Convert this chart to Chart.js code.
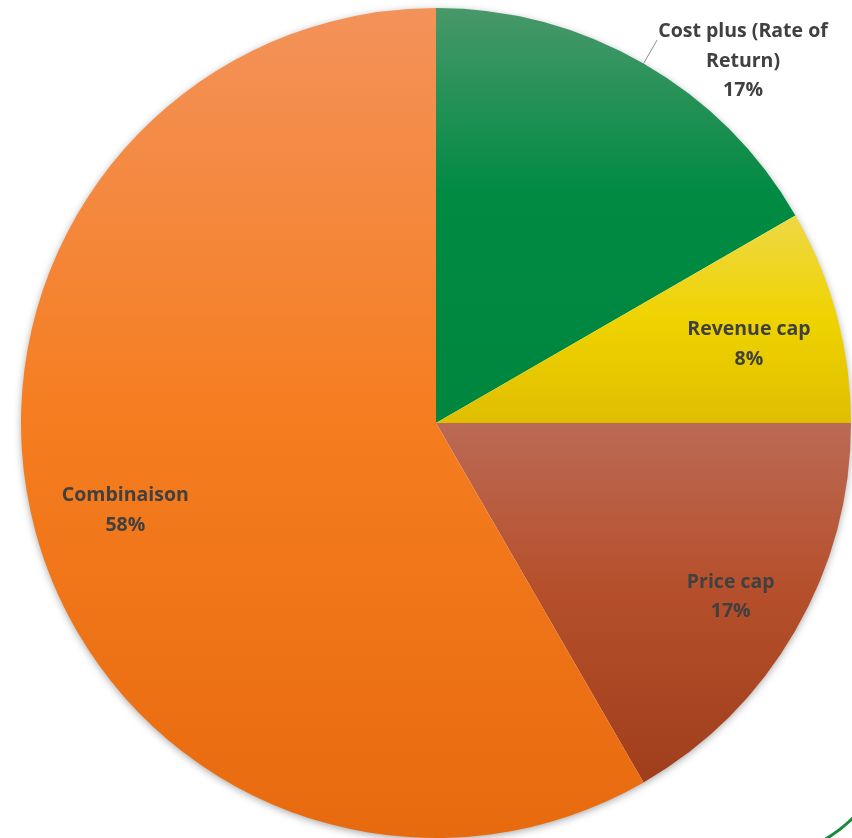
<!DOCTYPE html>
<html>
<head>
<meta charset="utf-8">
<script src="https://cdn.jsdelivr.net/npm/chart.js@4.4.1/dist/chart.umd.min.js"></script>
<style>
  html, body { margin: 0; padding: 0; background: #fff; overflow: hidden; }
  #wrap { width: 852px; height: 838px; position: relative; }
</style>
</head>
<body>
<div id="wrap"><canvas id="regChart"></canvas></div>
<script>
  // Number of regulators per regulation type
  const labels = [["Cost plus (Rate of", "Return)"], ["Revenue cap"], ["Price cap"], ["Combinaison"]];
  const counts = [2, 1, 2, 7];

  // top / middle / bottom colour of each slice gradient
  const topColors = ["#48986a", "#eed845", "#bb6a55", "#f39259"];
  const midColors = ["#008a42", "#efd300", "#b6502c", "#f57d1f"];
  const bottomColors = ["#00863e", "#dfbe00", "#a03e1b", "#e86a0e"];
  const midStop = [0.45, 0.5, 0.45, 0.5];

  // label placement: fraction of radius and angle nudge (degrees)
  const labelRadius = [1.151, 0.78, 0.82, 0.775];
  const labelShift = [10, 0.2, 0, 0];

  const total = counts.reduce((a, b) => a + b, 0);

  // vertical extent of a slice, angles measured clockwise from 12 o'clock
  function sliceYRange(i, cy, r) {
    let start = 0;
    for (let k = 0; k < i; k++) start += counts[k] / total * 2 * Math.PI;
    const end = start + counts[i] / total * 2 * Math.PI;
    const ys = [cy];
    const steps = 60;
    for (let s = 0; s <= steps; s++) {
      const a = start + (end - start) * s / steps;
      ys.push(cy - Math.cos(a) * r);
    }
    return [Math.min(...ys), Math.max(...ys)];
  }

  // soft shadow behind the whole pie only
  const shadowPlugin = {
    id: "shadow",
    beforeDatasetsDraw(chart) {
      const arc = chart.getDatasetMeta(0).data[0];
      const c = chart.ctx;
      c.save();
      c.shadowColor = "rgba(0,0,0,0.4)";
      c.shadowBlur = 9;
      c.shadowOffsetY = 2;
      c.fillStyle = "#fff";
      c.beginPath();
      c.arc(arc.x, arc.y, arc.outerRadius - 1, 0, Math.PI * 2);
      c.fill();
      c.restore();
    }
  };

  const labelPlugin = {
    id: "sliceLabels",
    afterDatasetsDraw(chart) {
      const c = chart.ctx;
      const arcs = chart.getDatasetMeta(0).data;
      c.save();
      c.font = "bold 19.5px 'Open Sans', sans-serif";
      c.fillStyle = "#404040";
      c.textAlign = "center";
      c.textBaseline = "middle";
      arcs.forEach((arc, i) => {
        const mid = (arc.startAngle + arc.endAngle) / 2;
        const r = arc.outerRadius;
        const a = mid + labelShift[i] * Math.PI / 180;
        const x = arc.x + Math.cos(a) * r * labelRadius[i];
        const y = arc.y + Math.sin(a) * r * labelRadius[i] + 4;
        const lines = labels[i].concat([Math.round(counts[i] / total * 100) + "%"]);
        const lh = 29.5;
        const y0 = y - (lines.length - 1) * lh / 2;
        lines.forEach((t, j) => c.fillText(t, x, y0 + j * lh));
        if (labelRadius[i] > 1) {
          // leader line from the slice edge towards its label
          c.strokeStyle = "#8c8c8c";
          c.lineWidth = 1;
          c.beginPath();
          c.moveTo(arc.x + Math.cos(mid) * r, arc.y + Math.sin(mid) * r);
          c.lineTo(arc.x + Math.cos(mid) * r * 1.065, arc.y + Math.sin(mid) * r * 1.065);
          c.stroke();
        }
      });
      c.restore();
    }
  };

  // green swoosh in the bottom right corner
  const cornerPlugin = {
    id: "corner",
    afterDraw(chart) {
      const c = chart.ctx;
      c.save();
      c.strokeStyle = "#1b8a3c";
      c.lineWidth = 3;
      c.beginPath();
      c.moveTo(824, 840);
      c.quadraticCurveTo(840, 831, 854, 817);
      c.stroke();
      c.restore();
    }
  };

  new Chart(document.getElementById("regChart"), {
    type: "pie",
    data: {
      labels: labels.map((l) => l.join(" ")),
      datasets: [{
        data: counts,
        borderWidth: 0,
        backgroundColor(context) {
          const chart = context.chart;
          const area = chart.chartArea;
          const i = context.dataIndex;
          if (!area) return midColors[i];
          const cy = (area.top + area.bottom) / 2;
          const r = Math.min(area.right - area.left, area.bottom - area.top) / 2;
          const [y0, y1] = sliceYRange(i, cy, r);
          const g = chart.ctx.createLinearGradient(0, y0, 0, y1);
          g.addColorStop(0, topColors[i]);
          g.addColorStop(midStop[i], midColors[i]);
          g.addColorStop(1, bottomColors[i]);
          return g;
        }
      }]
    },
    options: {
      responsive: true,
      maintainAspectRatio: false,
      animation: false,
      layout: { padding: { left: 21, right: 1, top: 8, bottom: 0 } },
      plugins: {
        legend: { display: false },
        tooltip: { enabled: false }
      }
    },
    plugins: [shadowPlugin, labelPlugin, cornerPlugin]
  });
</script>
</body>
</html>
